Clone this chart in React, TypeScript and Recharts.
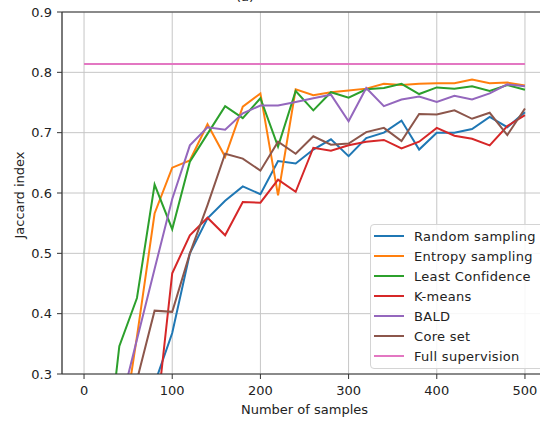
import {
  LineChart,
  Line,
  XAxis,
  YAxis,
  CartesianGrid,
  Legend,
  Label,
  ReferenceLine,
} from 'recharts'

const samples = [0, 20, 40, 60, 80, 100, 120, 140, 160, 180, 200, 220, 240, 260, 280, 300, 320, 340, 360, 380, 400, 420, 440, 460, 480, 500]

const randomSampling = [0.02, 0.05, 0.1, 0.18, 0.284, 0.368, 0.5, 0.558, 0.587, 0.611, 0.598, 0.653, 0.649, 0.672, 0.689, 0.661, 0.691, 0.7, 0.72, 0.672, 0.7, 0.7, 0.706, 0.726, 0.709, 0.734]
const entropySampling = [0.02, 0.06, 0.17, 0.362, 0.566, 0.642, 0.654, 0.714, 0.66, 0.743, 0.765, 0.596, 0.772, 0.762, 0.767, 0.77, 0.773, 0.781, 0.779, 0.781, 0.782, 0.782, 0.788, 0.782, 0.783, 0.778]
const leastConfidence = [0.02, 0.09, 0.346, 0.426, 0.614, 0.54, 0.652, 0.698, 0.744, 0.724, 0.757, 0.677, 0.769, 0.737, 0.767, 0.758, 0.772, 0.774, 0.781, 0.764, 0.775, 0.773, 0.777, 0.769, 0.779, 0.771]
const kMeans = [0.02, 0.04, 0.08, 0.13, 0.2, 0.467, 0.53, 0.559, 0.53, 0.585, 0.584, 0.622, 0.602, 0.675, 0.67, 0.679, 0.685, 0.688, 0.674, 0.685, 0.708, 0.695, 0.69, 0.679, 0.711, 0.729]
const bald = [0.02, 0.1, 0.24, 0.357, 0.474, 0.59, 0.679, 0.709, 0.705, 0.732, 0.745, 0.745, 0.751, 0.757, 0.763, 0.719, 0.774, 0.744, 0.755, 0.76, 0.751, 0.761, 0.755, 0.765, 0.78, 0.777]
const coreSet = [0.02, 0.08, 0.17, 0.29, 0.405, 0.403, 0.5, 0.58, 0.665, 0.657, 0.637, 0.685, 0.665, 0.694, 0.68, 0.682, 0.701, 0.708, 0.686, 0.731, 0.73, 0.737, 0.723, 0.733, 0.696, 0.74]
const fullSupervision = 0.814

const xTicks = [0, 100, 200, 300, 400, 500]
const yTicks = [0.3, 0.4, 0.5, 0.6, 0.7, 0.8, 0.9]

const series = [
  { key: 'random', name: 'Random sampling', color: '#1f77b4' },
  { key: 'entropy', name: 'Entropy sampling', color: '#ff7f0e' },
  { key: 'least', name: 'Least Confidence', color: '#2ca02c' },
  { key: 'kmeans', name: 'K-means', color: '#d62728' },
  { key: 'bald', name: 'BALD', color: '#9467bd' },
  { key: 'core', name: 'Core set', color: '#8c564b' },
  { key: 'full', name: 'Full supervision', color: '#e377c2' },
]

const data = samples.map((n, i) => ({
  n,
  random: randomSampling[i],
  entropy: entropySampling[i],
  least: leastConfidence[i],
  kmeans: kMeans[i],
  bald: bald[i],
  core: coreSet[i],
  full: fullSupervision,
}))

const FONT = '"DejaVu Sans", sans-serif'
const INK = '#222'
const SPINE = '#333'

function LegendBox() {
  return (
    <div
      style={{
        border: '1px solid #d4d4d4',
        borderRadius: 4,
        background: 'rgba(255,255,255,0.85)',
        padding: '1px 0 2px 3px',
        width: 180,
        fontFamily: FONT,
      }}
    >
      {series.map((s) => (
        <div key={s.key} style={{ display: 'flex', alignItems: 'center', height: 20 }}>
          <span style={{ width: 30, height: 2, background: s.color, marginRight: 10, flexShrink: 0 }} />
          <span style={{ fontSize: 13, color: INK, letterSpacing: 0.3, whiteSpace: 'nowrap' }}>{s.name}</span>
        </div>
      ))}
    </div>
  )
}

export default function App() {
  return (
    <div
      style={{
        position: 'absolute',
        left: 0,
        top: 0,
        width: 540,
        height: 421,
        overflow: 'hidden',
        background: '#fff',
        fontFamily: FONT,
      }}
    >
      <LineChart width={560} height={421} data={data} margin={{ top: 12, right: 13, bottom: 17, left: 2 }}>
        <CartesianGrid stroke="#c6c6c6" strokeWidth={1} />
        <XAxis
          dataKey="n"
          type="number"
          domain={[-25, 525]}
          ticks={xTicks}
          allowDataOverflow
          height={30}
          tickSize={5}
          tickMargin={7}
          axisLine={{ stroke: SPINE, strokeWidth: 1.2 }}
          tickLine={{ stroke: SPINE }}
          tick={{ fontSize: 13, fill: INK, fontFamily: FONT }}
        >
          <Label
            content={() => (
              <text x={304.5} y={414} textAnchor="middle" fontSize={13} fill={INK} fontFamily={FONT}>
                Number of samples
              </text>
            )}
          />
        </XAxis>
        <YAxis
          type="number"
          domain={[0.3, 0.9]}
          ticks={yTicks}
          allowDataOverflow
          width={60}
          tickSize={5}
          tickMargin={5}
          tickFormatter={(v: number) => v.toFixed(1)}
          axisLine={{ stroke: SPINE, strokeWidth: 1.2 }}
          tickLine={{ stroke: SPINE }}
          tick={{ fontSize: 13, fill: INK, fontFamily: FONT }}
        >
          <Label
            content={() => (
              <text
                x={19}
                y={195}
                transform="rotate(-90 19 195)"
                textAnchor="middle"
                dominantBaseline="central"
                fontSize={13}
                fill={INK}
                fontFamily={FONT}
              >
                Jaccard index
              </text>
            )}
          />
        </YAxis>
        {series.map((s) => (
          <Line
            key={s.key}
            dataKey={s.key}
            name={s.name}
            type="linear"
            stroke={s.color}
            strokeWidth={2}
            dot={false}
            activeDot={false}
            isAnimationActive={false}
          />
        ))}
        <ReferenceLine y={0.9} stroke={SPINE} strokeWidth={1.2}>
          <Label
            content={() => (
              <text x={245} y={1} textAnchor="middle" fontSize={13} fill={INK} fontFamily={FONT}>
                (a)
              </text>
            )}
          />
        </ReferenceLine>
        <Legend
          layout="vertical"
          align="center"
          verticalAlign="middle"
          content={() => <LegendBox />}
          wrapperStyle={{ left: 370, top: 224, right: 'auto', bottom: 'auto', width: 180 }}
        />
      </LineChart>
    </div>
  )
}
